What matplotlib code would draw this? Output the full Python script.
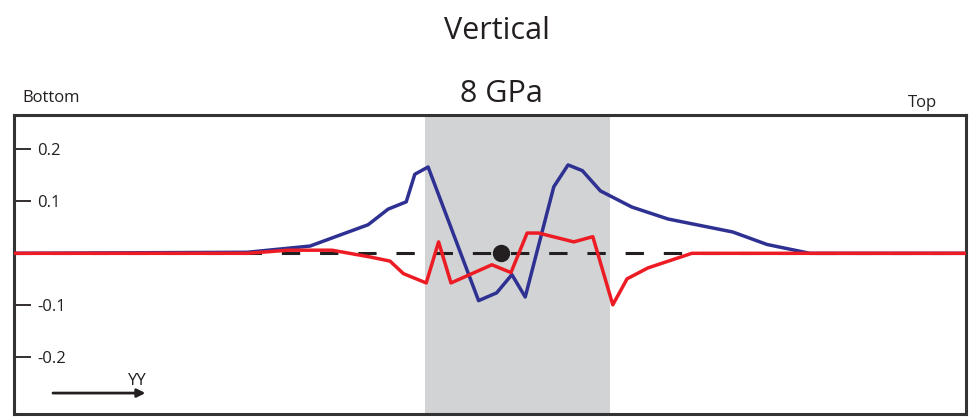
import numpy as np
import matplotlib
matplotlib.use('Agg')
import matplotlib.pyplot as plt

plt.rcParams['font.family'] = ['Open Sans', 'DejaVu Sans']

# position along the profile (0 = bottom, 100 = top)
blue_x = [0, 24.5, 31.1, 37.2, 39.3, 41.2, 42.1, 43.5, 48.8, 50.7, 52.3, 53.7,
          56.7, 58.2, 59.7, 61.6, 64.9, 68.7, 75.5, 79.1, 83.6, 100]
blue_y = [0.0, 0.002, 0.014, 0.055, 0.085, 0.099, 0.152, 0.166, -0.091, -0.076,
          -0.041, -0.084, 0.128, 0.170, 0.159, 0.120, 0.089, 0.066, 0.041, 0.017,
          0.0, 0.0]

red_x = [0, 24.5, 28.8, 33.4, 37.4, 39.5, 40.9, 43.3, 44.6, 45.9, 50.2, 52.2,
         53.9, 55.1, 58.8, 60.8, 62.9, 64.4, 66.6, 71.2, 100]
red_y = [0.0, 0.0, 0.006, 0.006, -0.007, -0.015, -0.039, -0.057, 0.022, -0.057,
         -0.022, -0.037, 0.039, 0.039, 0.022, 0.032, -0.099, -0.049, -0.028,
         0.0, 0.0]

dot_x, dot_y = 51.2, 0.0
shade = (43.2, 62.6)
yticks = [0.2, 0.1, -0.1, -0.2]
ytick_labels = ['0.2', '0.1', '-0.1', '-0.2']

W, H = 973, 420
fig = plt.figure(figsize=(W / 100, H / 100), dpi=100)
ax = fig.add_axes([14 / W, 1 - 414 / H, 952 / W, 299 / H])

ax.axvspan(shade[0], shade[1], color='#D1D3D4', lw=0, zorder=0)
ax.axhline(0, color='#231F20', lw=2.2, dashes=(6, 6.5), zorder=1)
ax.plot(blue_x, blue_y, color='#2E3192', lw=2.5, zorder=2)
ax.plot(red_x, red_y, color='#ED1C24', lw=2.5, zorder=3)
ax.plot(dot_x, dot_y, 'o', color='#231F20', ms=11.5, zorder=4)

ax.set_xlim(0, 100)
ax.set_ylim(-0.309, 0.266)
ax.set_xticks([])
ax.set_yticks(yticks)
ax.set_yticklabels(ytick_labels)
ax.tick_params(axis='y', direction='in', length=12, width=1.3, color='#231F20',
               pad=-16.5, labelsize=12, labelcolor='#231F20')
for lab in ax.get_yticklabels():
    lab.set_horizontalalignment('left')
for s in ax.spines.values():
    s.set_linewidth(2.2)
    s.set_color('#333333')

# direction arrow
ax.annotate('', xy=(0.141, 0.070), xytext=(0.038, 0.070), xycoords='axes fraction',
            arrowprops=dict(arrowstyle='-|>', color='#231F20', lw=2, mutation_scale=12))
ax.text(0.130, 0.097, 'YY', transform=ax.transAxes, ha='center', va='baseline',
        fontsize=12, color='#231F20')

fig.text(497 / W, 1 - 39 / H, 'Vertical', ha='center', va='baseline', fontsize=22, color='#231F20')
fig.text(501 / W, 1 - 102 / H, '8 GPa', ha='center', va='baseline', fontsize=22, color='#231F20')
fig.text(22 / W, 1 - 102 / H, 'Bottom', ha='left', va='baseline', fontsize=12, color='#231F20')
fig.text(908 / W, 1 - 107 / H, 'Top', ha='left', va='baseline', fontsize=12, color='#231F20')

fig.savefig('out.png', dpi=100)
